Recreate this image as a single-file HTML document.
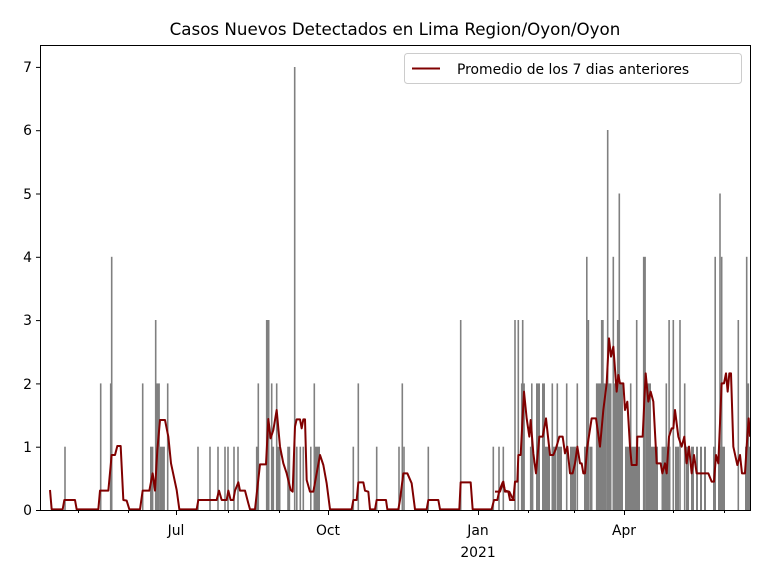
<!DOCTYPE html>
<html><head><meta charset="utf-8"><style>body{margin:0;background:#fff}svg{display:block;font-family:"DejaVu Sans","Liberation Sans",sans-serif}</style></head><body>
<svg width="768" height="576" viewBox="0 0 768 576" xmlns="http://www.w3.org/2000/svg">
<text x="395" y="35" font-size="16.7" text-anchor="middle" fill="#000">Casos Nuevos Detectados en Lima Region/Oyon/Oyon</text>
<g fill="#808080">
<rect x="64.2" y="446.7" width="1.6" height="63.3"/>
<rect x="99.9" y="383.4" width="1.6" height="126.6"/>
<rect x="109.9" y="383.4" width="1.6" height="126.6"/>
<rect x="110.9" y="256.8" width="1.6" height="253.2"/>
<rect x="141.9" y="383.4" width="1.6" height="126.6"/>
<rect x="150" y="446.7" width="3.4" height="63.3"/>
<rect x="154.9" y="320" width="1.6" height="190"/>
<rect x="156.5" y="383.4" width="3.4" height="126.6"/>
<rect x="159.9" y="446.7" width="5" height="63.3"/>
<rect x="166.9" y="383.4" width="1.6" height="126.6"/>
<rect x="197.2" y="446.7" width="1.6" height="63.3"/>
<rect x="209.2" y="446.7" width="1.6" height="63.3"/>
<rect x="217.2" y="446.7" width="1.6" height="63.3"/>
<rect x="224.2" y="446.7" width="1.6" height="63.3"/>
<rect x="227.2" y="446.7" width="1.6" height="63.3"/>
<rect x="233.2" y="446.7" width="1.6" height="63.3"/>
<rect x="237.2" y="446.7" width="1.6" height="63.3"/>
<rect x="255.9" y="446.7" width="1.6" height="63.3"/>
<rect x="257.5" y="383.4" width="1.6" height="126.6"/>
<rect x="265.9" y="320" width="3.6" height="190"/>
<rect x="270.9" y="383.4" width="1.6" height="126.6"/>
<rect x="272.5" y="446.7" width="1.6" height="63.3"/>
<rect x="275.9" y="383.4" width="1.6" height="126.6"/>
<rect x="277.5" y="446.7" width="3" height="63.3"/>
<rect x="287.2" y="446.7" width="3" height="63.3"/>
<rect x="293.9" y="67" width="1.6" height="443"/>
<rect x="296" y="446.7" width="1.6" height="63.3"/>
<rect x="299.5" y="446.7" width="1.6" height="63.3"/>
<rect x="302.5" y="446.7" width="1.6" height="63.3"/>
<rect x="310" y="446.7" width="1.6" height="63.3"/>
<rect x="313.5" y="383.4" width="1.6" height="126.6"/>
<rect x="315" y="446.7" width="5" height="63.3"/>
<rect x="352.5" y="446.7" width="1.6" height="63.3"/>
<rect x="357.5" y="383.4" width="1.6" height="126.6"/>
<rect x="375.9" y="446.7" width="1.6" height="63.3"/>
<rect x="398.2" y="446.7" width="1.6" height="63.3"/>
<rect x="401.5" y="383.4" width="1.6" height="126.6"/>
<rect x="403.2" y="446.7" width="1.6" height="63.3"/>
<rect x="427.5" y="446.7" width="1.6" height="63.3"/>
<rect x="459.9" y="320" width="1.6" height="190"/>
<rect x="492.5" y="446.7" width="1.6" height="63.3"/>
<rect x="498.2" y="446.7" width="1.6" height="63.3"/>
<rect x="502.5" y="446.7" width="1.6" height="63.3"/>
<rect x="514.2" y="320" width="1.6" height="190"/>
<rect x="517.5" y="320" width="1.6" height="190"/>
<rect x="520.9" y="383.4" width="4" height="126.6"/>
<rect x="521.9" y="320" width="1.6" height="190"/>
<rect x="529.9" y="446.7" width="3.5" height="63.3"/>
<rect x="531" y="383.4" width="1.6" height="126.6"/>
<rect x="536" y="383.4" width="4" height="126.6"/>
<rect x="542" y="383.4" width="3" height="126.6"/>
<rect x="545" y="446.7" width="5" height="63.3"/>
<rect x="551.5" y="383.4" width="1.6" height="126.6"/>
<rect x="553" y="446.7" width="3" height="63.3"/>
<rect x="556.5" y="383.4" width="1.6" height="126.6"/>
<rect x="558" y="446.7" width="4" height="63.3"/>
<rect x="565.9" y="383.4" width="1.6" height="126.6"/>
<rect x="570" y="446.7" width="6" height="63.3"/>
<rect x="576.5" y="383.4" width="1.6" height="126.6"/>
<rect x="584" y="446.7" width="4.5" height="63.3"/>
<rect x="586" y="256.8" width="1.6" height="253.2"/>
<rect x="587.6" y="320" width="1.6" height="190"/>
<rect x="589.5" y="446.7" width="3" height="63.3"/>
<rect x="595.9" y="383.4" width="11" height="126.6"/>
<rect x="600.9" y="320" width="2.8" height="190"/>
<rect x="606.9" y="130" width="1.6" height="380"/>
<rect x="608.5" y="383.4" width="3" height="126.6"/>
<rect x="612.5" y="256.8" width="1.6" height="253.2"/>
<rect x="614" y="383.4" width="3" height="126.6"/>
<rect x="616.9" y="320" width="1.6" height="190"/>
<rect x="618.5" y="193.5" width="1.6" height="316.5"/>
<rect x="620" y="383.4" width="3" height="126.6"/>
<rect x="625" y="446.7" width="15" height="63.3"/>
<rect x="629.9" y="383.4" width="1.6" height="126.6"/>
<rect x="635.9" y="320" width="1.6" height="190"/>
<rect x="642.9" y="256.8" width="3" height="253.2"/>
<rect x="646" y="383.4" width="5" height="126.6"/>
<rect x="651" y="446.7" width="7" height="63.3"/>
<rect x="661.5" y="446.7" width="9" height="63.3"/>
<rect x="665.5" y="383.4" width="1.6" height="126.6"/>
<rect x="668.3" y="320" width="1.6" height="190"/>
<rect x="672.5" y="320" width="1.6" height="190"/>
<rect x="675" y="446.7" width="4" height="63.3"/>
<rect x="679.2" y="320" width="1.6" height="190"/>
<rect x="683.9" y="383.4" width="1.6" height="126.6"/>
<rect x="686" y="446.7" width="3" height="63.3"/>
<rect x="691" y="446.7" width="3" height="63.3"/>
<rect x="696" y="446.7" width="2" height="63.3"/>
<rect x="700" y="446.7" width="2" height="63.3"/>
<rect x="704" y="446.7" width="2" height="63.3"/>
<rect x="713" y="446.7" width="3" height="63.3"/>
<rect x="718" y="446.7" width="7" height="63.3"/>
<rect x="714.4" y="256.8" width="1.6" height="253.2"/>
<rect x="719.2" y="193.5" width="1.6" height="316.5"/>
<rect x="720.9" y="256.8" width="1.6" height="253.2"/>
<rect x="737.5" y="320" width="1.6" height="190"/>
<rect x="745" y="446.7" width="5" height="63.3"/>
<rect x="745.9" y="256.8" width="1.6" height="253.2"/>
<rect x="747.5" y="383.4" width="1.6" height="126.6"/>
</g>
<g fill="none" stroke="#800000" stroke-width="2" stroke-linejoin="round">
<polyline vector-effect="non-scaling-stroke" transform="translate(40,250) scale(0.33333)" points="30,720 35,778 68,778 73,750 105,750 110,778 175,778 180,722 205,722 215,615 225,615 232,588 242,588 250,750 260,752 268,778 300,778 308,722 328,722 338,670 345,722 352,600 360,510 375,510 385,560 393,640 410,720 418,778 470,778 475,750 530,750 537,722 545,750 560,750 565,722 572,750 580,750 585,722 595,697 600,722 615,722 625,760 630,778 645,778 660,643 678,643 685,507 692,565 700,540 710,480 720,590"/>
<polyline vector-effect="non-scaling-stroke" transform="translate(270,250) scale(0.33333)" points="30,590 40,640 50,670 62,720 68,725 75,530 80,508 90,508 95,535 100,508 105,508 110,690 120,725 130,725 140,670 150,615 160,645 170,700 180,778 245,778 250,750 260,750 265,697 280,697 285,722 295,725 300,778 315,778 320,750 348,750 352,778 385,778 390,750 400,670 412,670 425,700 435,778 470,778 475,750 505,750 510,778 568,778 572,697 602,697 608,778 665,778 672,750 682,750 688,722 698,697 705,722 718,725 730,750 735,750"/>
<polyline vector-effect="non-scaling-stroke" transform="translate(500,120) scale(0.33333)" points="-15,1115 0,1115 10,1085 15,1115 25,1115 30,1140 40,1140 45,1085 52,1085 55,1005 62,1005 72,815 80,895 88,950 92,900 100,1000 108,1060 118,950 128,950 138,895 150,1005 160,1005 168,985 178,950 188,950 195,1000 202,980 210,1060 218,1060 225,1030 232,980 240,1030 245,1030 250,1060 255,1060 262,980 275,895 288,895 300,980 310,870 320,790 327,655 333,710 340,680 350,815 355,765 360,790 370,790 375,870 382,845 390,980 395,1035 410,1035 412,950 428,950 437,760 445,845 452,815 460,845 470,1030 482,1030 487,1060 495,1030 500,1060 507,950 515,925 520,925 525,870 535,950 545,980 553,950 560,1030 567,980 575,1060 582,1005 590,1060 625,1060 635,1085 642,1085 648,1005 655,1030 665,790 672,790 678,760 683,815 688,760 693,760 700,980 712,1035 720,1005 726,1060 735,1060 740,980 746,895 750,950"/>
</g>
<rect x="40.5" y="45.5" width="710" height="465" fill="none" stroke="#000" stroke-width="1"/>
<g stroke="#000" stroke-width="1">
<line x1="36" y1="510.5" x2="40" y2="510.5"/><line x1="36" y1="447.2" x2="40" y2="447.2"/><line x1="36" y1="383.9" x2="40" y2="383.9"/><line x1="36" y1="320.6" x2="40" y2="320.6"/><line x1="36" y1="257.3" x2="40" y2="257.3"/><line x1="36" y1="194" x2="40" y2="194"/><line x1="36" y1="130.7" x2="40" y2="130.7"/><line x1="36" y1="67.4" x2="40" y2="67.4"/>
<line x1="176.5" y1="511" x2="176.5" y2="515"/><line x1="328.5" y1="511" x2="328.5" y2="515"/><line x1="478.5" y1="511" x2="478.5" y2="515"/><line x1="624.5" y1="511" x2="624.5" y2="515"/>
<line x1="78.5" y1="511" x2="78.5" y2="513"/><line x1="128.5" y1="511" x2="128.5" y2="513"/><line x1="228.5" y1="511" x2="228.5" y2="513"/><line x1="279.5" y1="511" x2="279.5" y2="513"/><line x1="378.5" y1="511" x2="378.5" y2="513"/><line x1="427.5" y1="511" x2="427.5" y2="513"/><line x1="528.5" y1="511" x2="528.5" y2="513"/><line x1="574.5" y1="511" x2="574.5" y2="513"/><line x1="673.5" y1="511" x2="673.5" y2="513"/><line x1="724.5" y1="511" x2="724.5" y2="513"/>
</g>
<g font-size="13.9" fill="#000" text-anchor="end">
<text x="32" y="515">0</text><text x="32" y="452">1</text><text x="32" y="389">2</text><text x="32" y="325">3</text><text x="32" y="262">4</text><text x="32" y="199">5</text><text x="32" y="135">6</text><text x="32" y="72">7</text>
</g>
<g font-size="13.9" fill="#000" text-anchor="middle">
<text x="176" y="535">Jul</text><text x="328" y="535">Oct</text><text x="478" y="535">Jan</text><text x="478" y="557">2021</text><text x="624" y="535">Apr</text>
</g>
<rect x="404.5" y="53.5" width="337" height="30" rx="3" fill="#fff" fill-opacity="0.8" stroke="#ccc"/>
<line x1="412" y1="68.5" x2="440" y2="68.5" stroke="#800000" stroke-width="2"/>
<text x="457" y="74" font-size="13.9" fill="#000">Promedio de los 7 dias anteriores</text>
</svg>
</body></html>
